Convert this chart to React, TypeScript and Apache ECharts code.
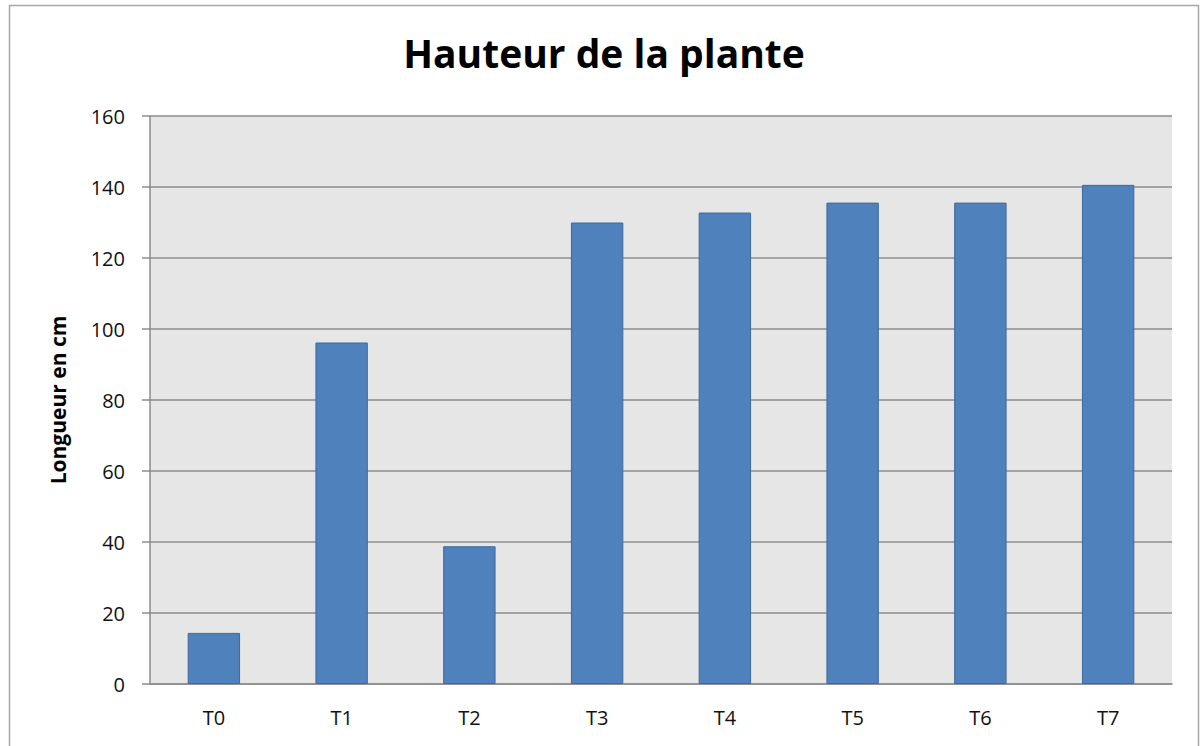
import React, { useEffect, useRef } from "react";
import * as echarts from "echarts";

const categories = ["T0", "T1", "T2", "T3", "T4", "T5", "T6", "T7"];
const heights = [14.4, 96.2, 38.8, 130.0, 132.8, 135.6, 135.6, 140.6];
const yTicks = { min: 0, max: 160, interval: 20 };

export default function App() {
  const ref = useRef<HTMLDivElement>(null);
  useEffect(() => {
    const chart = echarts.init(ref.current!, null, { renderer: "svg" });
    chart.setOption({
      animation: false,
      backgroundColor: "#ffffff",
      title: {
        text: "Hauteur de la plante",
        left: 599,
        textAlign: "center",
        top: 28,
        textStyle: { fontFamily: "Open Sans", fontWeight: "bold", fontSize: 39, color: "#000" },
      },
      graphic: [
        {
          type: "rect",
          shape: { x: 9.5, y: 5.5, width: 1189, height: 760 },
          style: { fill: "none", stroke: "#a6a6a6", lineWidth: 1.5 },
          silent: true,
        },
      ],
      grid: {
        left: 150,
        right: 28,
        top: 116,
        bottom: 62,
        show: true,
        backgroundColor: "#e6e6e6",
        borderWidth: 0,
      },
      xAxis: {
        type: "category",
        data: categories,
        axisLine: { lineStyle: { color: "#8c8c8c", width: 1.5 } },
        axisTick: { show: false },
        axisLabel: { color: "#111", fontFamily: "Open Sans", fontSize: 20, margin: 23 },
      },
      yAxis: {
        type: "value",
        min: yTicks.min,
        max: yTicks.max,
        interval: yTicks.interval,
        name: "Longueur en cm",
        nameLocation: "middle",
        nameGap: 82,
        nameRotate: 90,
        nameTextStyle: { fontFamily: "Open Sans", fontWeight: "bold", fontSize: 21, color: "#000" },
        axisLine: { show: true, lineStyle: { color: "#8c8c8c", width: 1.5 } },
        axisTick: { show: true, length: 8, lineStyle: { color: "#8c8c8c", width: 1.5 } },
        axisLabel: { color: "#111", fontFamily: "Open Sans", fontSize: 20, margin: 25 },
        splitLine: { lineStyle: { color: "#8c8c8c", width: 1.5 } },
      },
      series: [
        {
          type: "bar",
          data: heights,
          barWidth: "41%",
          itemStyle: { color: "#4f81bd", borderColor: "#3c6a9e", borderWidth: 1 },
        },
      ],
    });
    return () => chart.dispose();
  }, []);
  return (
    <div
      ref={ref}
      style={{ position: "absolute", left: 0, top: 0, width: 1200, height: 746 }}
    />
  );
}
